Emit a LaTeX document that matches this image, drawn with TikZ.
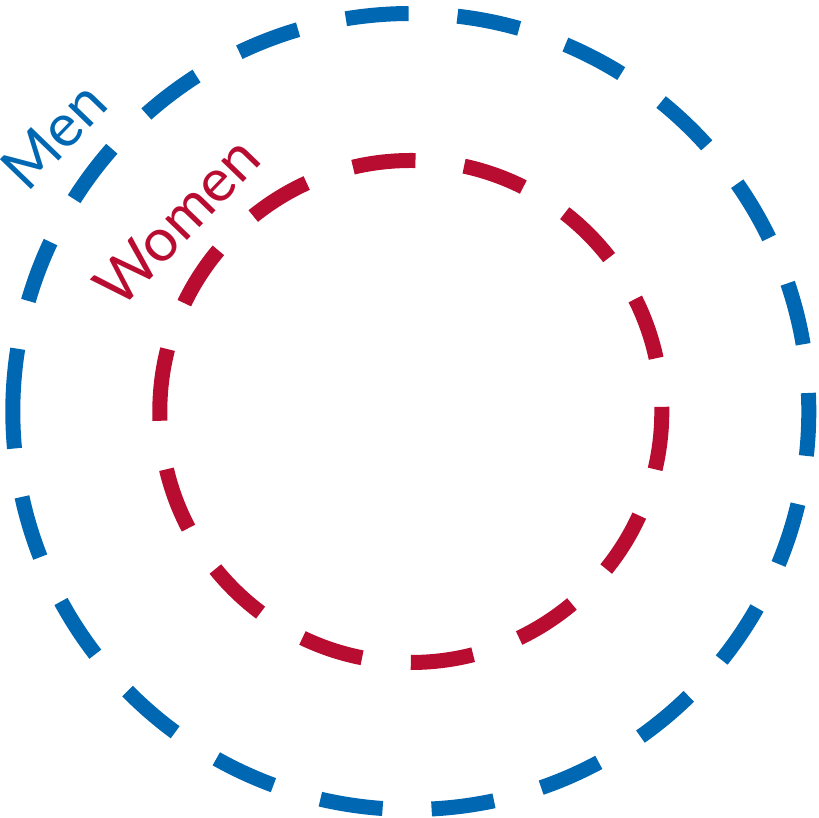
\documentclass[tikz,border=0pt]{standalone}
\usepackage{fontspec}
\setsansfont{Lato}
\usetikzlibrary{positioning}
\definecolor{cblue}{HTML}{0067B2}
\definecolor{cred}{HTML}{B80C31}
\tikzset{
  every picture/.style={font=\sffamily},
  ring/.style={draw=#1, line width=15pt, dash pattern=on 63pt off 49pt},
  ring/.default=cblue,
  tag/.style={text=#1, inner sep=0pt, anchor=base, rotate=46, font=\sffamily\fontsize{60}{62}\selectfont},
}
\begin{document}
\begin{tikzpicture}[x=1pt, y=1pt]
  \useasboundingbox (0,0) rectangle (819,818);
  \coordinate (c) at (410.8,406.5);
  % outer ring, starts at the left point and runs clockwise
  \draw[ring=cblue] (c) ++(-398pt,0) arc[start angle=180, end angle=-180, radius=398pt];
  \draw[ring=cred] (c) ++(-251pt,0) arc[start angle=180, end angle=-180, radius=251pt];
  \node[tag=cblue] (men) at (69,668) {Men};
  \node[tag=cred] (women) at (192,582) {Women};
\end{tikzpicture}
\end{document}
